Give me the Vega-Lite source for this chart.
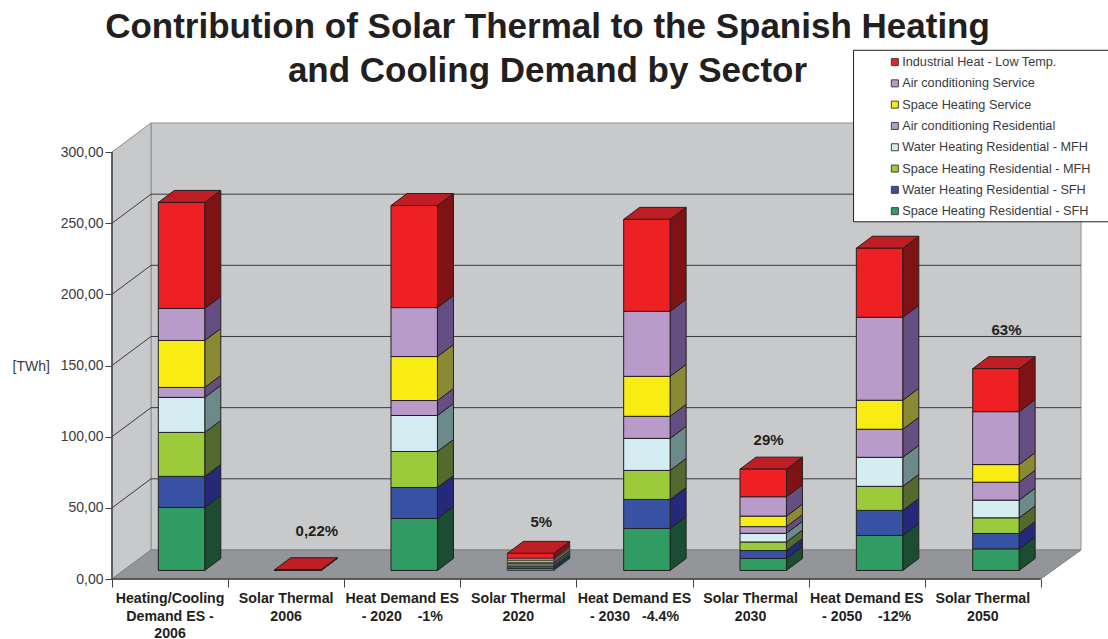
{
"$schema":"https://vega.github.io/schema/vega-lite/v6.json",
"width":969,"height":456,
"autosize":{"type":"none"},
"padding":{"left":112,"top":123,"right":27,"bottom":60},
"background":"white",
"title":{"text":["Contribution of Solar Thermal to the Spanish Heating","and Cooling Demand by Sector"],"font":"Liberation Sans","fontSize":35,"fontWeight":"bold","color":"#231f20","lineHeight":44,"anchor":"middle","frame":"group","dx":-49,"offset":-39},
"config":{"view":{"stroke":null},"font":"Liberation Sans"},
"datasets":{
"unit":[{"t":0},{"t":1}],
"levels":[{"level":50},{"level":100},{"level":150},{"level":200},{"level":250}],
"labels":[
{"bar":0,"label":"Heating/Cooling\nDemand ES -\n2006"},
{"bar":1,"label":"Solar Thermal\n2006"},
{"bar":2,"label":"Heat Demand ES\n- 2020\u00a0\u00a0\u00a0\u00a0-1%"},
{"bar":3,"label":"Solar Thermal\n2020"},
{"bar":4,"label":"Heat Demand ES\n- 2030\u00a0\u00a0\u00a0-4.4%"},
{"bar":5,"label":"Solar Thermal\n2030"},
{"bar":6,"label":"Heat Demand ES\n- 2050\u00a0\u00a0\u00a0\u00a0-12%"},
{"bar":7,"label":"Solar Thermal\n2050"}],
"shares":[
{"share":"0,22%","at":1.764,"height":34},
{"share":"5%","at":3.697,"height":39.7},
{"share":"29%","at":5.655,"height":97.5},
{"share":"63%","at":7.704,"height":175.3}],
"bars":[
{"bar":0,"order":1,"segment":"Space Heating Residential - SFH","value":44.3},
{"bar":0,"order":2,"segment":"Water Heating Residential - SFH","value":21.8},
{"bar":0,"order":3,"segment":"Space Heating Residential - MFH","value":30.9},
{"bar":0,"order":4,"segment":"Water Heating Residential - MFH","value":24.6},
{"bar":0,"order":5,"segment":"Air conditioning Residential","value":7},
{"bar":0,"order":6,"segment":"Space Heating Service","value":33},
{"bar":0,"order":7,"segment":"Air conditioning Service","value":22.5},
{"bar":0,"order":8,"segment":"Industrial Heat - Low Temp.","value":74.5},
{"bar":1,"order":1,"segment":"Space Heating Residential - SFH","value":0.05},
{"bar":1,"order":2,"segment":"Water Heating Residential - SFH","value":0.05},
{"bar":1,"order":3,"segment":"Space Heating Residential - MFH","value":0.05},
{"bar":1,"order":4,"segment":"Water Heating Residential - MFH","value":0.05},
{"bar":1,"order":5,"segment":"Air conditioning Residential","value":0.02},
{"bar":1,"order":6,"segment":"Space Heating Service","value":0.05},
{"bar":1,"order":7,"segment":"Air conditioning Service","value":0.03},
{"bar":1,"order":8,"segment":"Industrial Heat - Low Temp.","value":0.2},
{"bar":2,"order":1,"segment":"Space Heating Residential - SFH","value":36.5},
{"bar":2,"order":2,"segment":"Water Heating Residential - SFH","value":21.8},
{"bar":2,"order":3,"segment":"Space Heating Residential - MFH","value":25.3},
{"bar":2,"order":4,"segment":"Water Heating Residential - MFH","value":25.3},
{"bar":2,"order":5,"segment":"Air conditioning Residential","value":10.5},
{"bar":2,"order":6,"segment":"Space Heating Service","value":30.9},
{"bar":2,"order":7,"segment":"Air conditioning Service","value":34.4},
{"bar":2,"order":8,"segment":"Industrial Heat - Low Temp.","value":71.7},
{"bar":3,"order":1,"segment":"Space Heating Residential - SFH","value":1.4},
{"bar":3,"order":2,"segment":"Water Heating Residential - SFH","value":1.6},
{"bar":3,"order":3,"segment":"Space Heating Residential - MFH","value":1},
{"bar":3,"order":4,"segment":"Water Heating Residential - MFH","value":1},
{"bar":3,"order":5,"segment":"Air conditioning Residential","value":0.8},
{"bar":3,"order":6,"segment":"Space Heating Service","value":1.4},
{"bar":3,"order":7,"segment":"Air conditioning Service","value":1.4},
{"bar":3,"order":8,"segment":"Industrial Heat - Low Temp.","value":3.4},
{"bar":4,"order":1,"segment":"Space Heating Residential - SFH","value":29.5},
{"bar":4,"order":2,"segment":"Water Heating Residential - SFH","value":20.4},
{"bar":4,"order":3,"segment":"Space Heating Residential - MFH","value":20.4},
{"bar":4,"order":4,"segment":"Water Heating Residential - MFH","value":22.5},
{"bar":4,"order":5,"segment":"Air conditioning Residential","value":15.5},
{"bar":4,"order":6,"segment":"Space Heating Service","value":28.1},
{"bar":4,"order":7,"segment":"Air conditioning Service","value":45.7},
{"bar":4,"order":8,"segment":"Industrial Heat - Low Temp.","value":64.6},
{"bar":5,"order":1,"segment":"Space Heating Residential - SFH","value":8.4},
{"bar":5,"order":2,"segment":"Water Heating Residential - SFH","value":5.6},
{"bar":5,"order":3,"segment":"Space Heating Residential - MFH","value":6},
{"bar":5,"order":4,"segment":"Water Heating Residential - MFH","value":6.1},
{"bar":5,"order":5,"segment":"Air conditioning Residential","value":4.7},
{"bar":5,"order":6,"segment":"Space Heating Service","value":7.4},
{"bar":5,"order":7,"segment":"Air conditioning Service","value":13.6},
{"bar":5,"order":8,"segment":"Industrial Heat - Low Temp.","value":19.4},
{"bar":6,"order":1,"segment":"Space Heating Residential - SFH","value":24.6},
{"bar":6,"order":2,"segment":"Water Heating Residential - SFH","value":17.6},
{"bar":6,"order":3,"segment":"Space Heating Residential - MFH","value":16.9},
{"bar":6,"order":4,"segment":"Water Heating Residential - MFH","value":20.4},
{"bar":6,"order":5,"segment":"Air conditioning Residential","value":19.7},
{"bar":6,"order":6,"segment":"Space Heating Service","value":20.4},
{"bar":6,"order":7,"segment":"Air conditioning Service","value":58.3},
{"bar":6,"order":8,"segment":"Industrial Heat - Low Temp.","value":48.5},
{"bar":7,"order":1,"segment":"Space Heating Residential - SFH","value":15.2},
{"bar":7,"order":2,"segment":"Water Heating Residential - SFH","value":10.8},
{"bar":7,"order":3,"segment":"Space Heating Residential - MFH","value":11},
{"bar":7,"order":4,"segment":"Water Heating Residential - MFH","value":12.4},
{"bar":7,"order":5,"segment":"Air conditioning Residential","value":12.6},
{"bar":7,"order":6,"segment":"Space Heating Service","value":12.4},
{"bar":7,"order":7,"segment":"Air conditioning Service","value":37.2},
{"bar":7,"order":8,"segment":"Industrial Heat - Low Temp.","value":30.2}
]},
"layer":[
{"data":{"name":"unit"},"transform":[{"filter":"datum.t==0"}],
 "mark":{"type":"rect","fill":"#c8c9cb","stroke":"#8b8d8f","strokeWidth":1},
 "encoding":{
  "x":{"datum":0.336,"type":"quantitative","scale":{"domain":[0,8.346],"nice":false,"zero":false},
   "axis":{"values":[0,1,2,3,4,5,6,7,8],"labels":false,"domain":false,"grid":false,"tickSize":8,"tickColor":"#414042","tickWidth":1,"title":null}},
  "x2":{"datum":8.346},
  "y":{"datum":20.4,"type":"quantitative","scale":{"domain":[0,320.4],"nice":false,"zero":false},
   "axis":{"values":[0,50,100,150,200,250,300],"labelExpr":"replace(format(datum.value,'.2f'),'.',',')","domain":false,"grid":false,"tickSize":7,"tickColor":"#414042","tickWidth":1,"labelFont":"Liberation Sans","labelFontSize":14,"labelColor":"#3a3a3c","labelPadding":2,"title":"[TWh]","titleAngle":0,"titleFont":"Liberation Sans","titleFontSize":14,"titleFontWeight":"normal","titleColor":"#3a3a3c","titleAlign":"left","titleBaseline":"middle","titleX":-100,"titleY":243}},
  "y2":{"datum":320.4}}},
{"data":{"name":"unit"},"transform":[{"calculate":"datum.t*0.336","as":"d"},{"calculate":"datum.t*20.4","as":"lo"},{"calculate":"300+datum.t*20.4","as":"hi"}],
 "mark":{"type":"area","fill":"#c8c9cb","stroke":"#8b8d8f","strokeWidth":1},
 "encoding":{"x":{"field":"d","type":"quantitative"},"y":{"field":"hi","type":"quantitative","stack":null},"y2":{"field":"lo"}}},
{"data":{"name":"unit"},"transform":[{"calculate":"datum.t*0.336","as":"a"},{"calculate":"8+datum.t*0.346","as":"b"},{"calculate":"datum.t*20.4","as":"h"}],
 "mark":{"type":"area","orient":"horizontal","fill":"#939598","stroke":"#7f8184","strokeWidth":1},
 "encoding":{"y":{"field":"h","type":"quantitative","stack":null},"x":{"field":"a","type":"quantitative"},"x2":{"field":"b"}}},
{"data":{"name":"levels"},"transform":[{"calculate":"datum.level+20.4","as":"back"}],
 "mark":{"type":"rule","color":"#3a3a3c","strokeWidth":1},
 "encoding":{"x":{"datum":0.336,"type":"quantitative"},"x2":{"datum":8.346},"y":{"field":"back","type":"quantitative"}}},
{"data":{"name":"levels"},"transform":[{"calculate":"datum.level+20.4","as":"back"}],
 "mark":{"type":"rule","color":"#3a3a3c","strokeWidth":1},
 "encoding":{"x":{"datum":0,"type":"quantitative"},"x2":{"datum":0.336},"y":{"field":"level","type":"quantitative"},"y2":{"field":"back"}}},
{"data":{"name":"unit"},"transform":[{"filter":"datum.t==0"}],
 "mark":{"type":"rule","color":"#414042","strokeWidth":1.5},
 "encoding":{"x":{"datum":0,"type":"quantitative"},"y":{"datum":0,"type":"quantitative"},"y2":{"datum":300}}},
{"data":{"name":"unit"},"transform":[{"filter":"datum.t==0"}],
 "mark":{"type":"rule","color":"#414042","strokeWidth":1.5},
 "encoding":{"x":{"datum":0,"type":"quantitative"},"x2":{"datum":8},"y":{"datum":0,"type":"quantitative"}}},
{"data":{"name":"bars"},
 "transform":[
  {"stack":"value","groupby":["bar"],"sort":[{"field":"order","order":"ascending"}],"as":["start","end"]},
  {"calculate":"datum.bar*1.002+0.599","as":"cx"},
  {"calculate":"datum.cx-0.2","as":"left"},
  {"calculate":"datum.cx+0.2","as":"right"},
  {"calculate":"datum.start+6","as":"lo"},
  {"calculate":"datum.end+6","as":"hi"},
  {"calculate":"datum.bar+'-'+datum.order","as":"id"}],
 "resolve":{"scale":{"color":"independent"}},
 "layer":[
 {"transform":[{"calculate":"[0,1]","as":"t"},{"flatten":["t"]},
   {"calculate":"datum.right+datum.t*0.138","as":"sx"},
   {"calculate":"datum.lo+datum.t*8.43","as":"sl"},
   {"calculate":"datum.hi+datum.t*8.43","as":"sh"}],
  "mark":{"type":"area","stroke":"#231f20"},
  "encoding":{"x":{"field":"sx","type":"quantitative"},"y":{"field":"sh","type":"quantitative","stack":null},"y2":{"field":"sl"},"detail":{"field":"id"},
   "strokeWidth":{"condition":{"test":"datum.bar==3","value":0.7},"value":1},
   "color":{"field":"segment","type":"nominal","legend":null,"scale":{
    "domain":["Industrial Heat - Low Temp.","Air conditioning Service","Space Heating Service","Air conditioning Residential","Water Heating Residential - MFH","Space Heating Residential - MFH","Water Heating Residential - SFH","Space Heating Residential - SFH"],
    "range":["#7e1214","#654f82","#8a8a35","#654f82","#6c8a8a","#53692e","#26287a","#1b4d32"]}}}},
 {"transform":[{"filter":"datum.order==8"},{"calculate":"[0,1]","as":"t"},{"flatten":["t"]},
   {"calculate":"datum.left+datum.t*0.138","as":"a"},
   {"calculate":"datum.right+datum.t*0.138","as":"b"},
   {"calculate":"datum.hi+datum.t*8.43","as":"h"}],
  "mark":{"type":"area","orient":"horizontal","fill":"#be1e24","stroke":"#231f20","strokeWidth":1},
  "encoding":{"y":{"field":"h","type":"quantitative","stack":null},"x":{"field":"a","type":"quantitative"},"x2":{"field":"b"},"detail":{"field":"id"}}},
 {"mark":{"type":"rect","stroke":"#231f20"},
  "encoding":{"x":{"field":"left","type":"quantitative"},"x2":{"field":"right"},"y":{"field":"lo","type":"quantitative"},"y2":{"field":"hi"},
   "strokeWidth":{"condition":{"test":"datum.bar==3","value":0.7},"value":1},
   "color":{"field":"segment","type":"nominal","scale":{
    "domain":["Industrial Heat - Low Temp.","Air conditioning Service","Space Heating Service","Air conditioning Residential","Water Heating Residential - MFH","Space Heating Residential - MFH","Water Heating Residential - SFH","Space Heating Residential - SFH"],
    "range":["#ee2024","#b89bc9","#f8ec13","#b89bc9","#d3edf3","#9bca3b","#3852a3","#319b64"]},
    "legend":{"title":null,"orient":"none","legendX":776.5,"legendY":-67.3,"symbolType":"square","symbolSize":49,"symbolStrokeColor":"#414042","symbolStrokeWidth":1,"labelFont":"Liberation Sans","labelFontSize":12.7,"labelColor":"#3a3a3c","labelLimit":300,"labelOffset":1,"rowPadding":7.3,"padding":0}}}}
 ]},
{"data":{"name":"shares"},
 "mark":{"type":"text","font":"Liberation Sans","fontSize":15,"fontWeight":"bold","color":"#231f20","align":"center","baseline":"middle"},
 "encoding":{"x":{"field":"at","type":"quantitative"},"y":{"field":"height","type":"quantitative"},"text":{"field":"share"}}},
{"data":{"name":"labels"},"transform":[{"calculate":"datum.bar+0.5","as":"mid"}],
 "mark":{"type":"text","font":"Liberation Sans","fontSize":14.2,"fontWeight":"bold","color":"#231f20","align":"center","baseline":"top","lineBreak":"\n","lineHeight":17.5,"dy":13},
 "encoding":{"x":{"field":"mid","type":"quantitative"},"y":{"datum":0,"type":"quantitative"},"text":{"field":"label"}}},
{"data":{"name":"unit"},"transform":[{"filter":"datum.t==0"}],
 "mark":{"type":"rect","fill":"white","stroke":"#231f20","strokeWidth":1},
 "encoding":{"x":{"datum":6.387,"type":"quantitative"},"x2":{"datum":8.7},"y":{"datum":251,"type":"quantitative"},"y2":{"datum":371.5}}}
]}
